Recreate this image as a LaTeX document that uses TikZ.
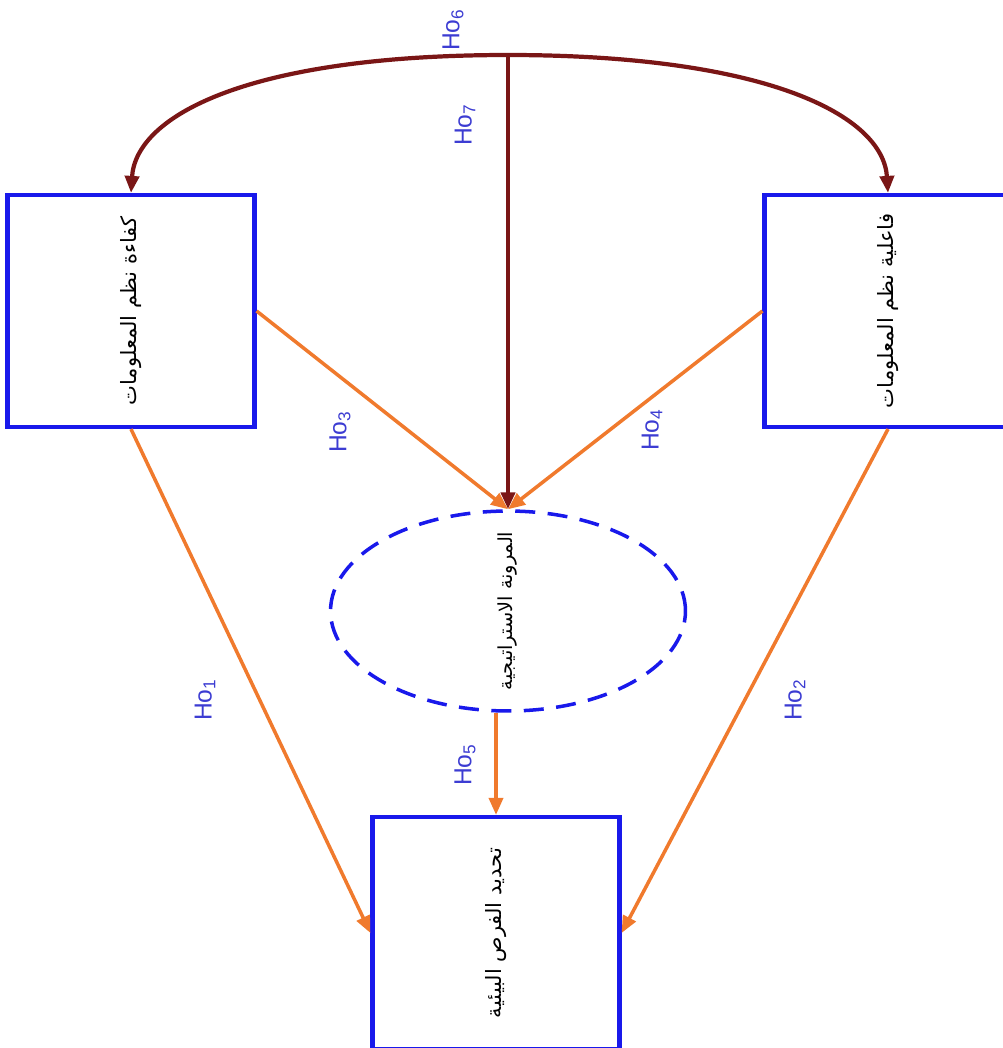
\documentclass[tikz,border=0pt]{standalone}
\usepackage{fontspec}
\usepackage{graphicx}
\setmainfont{Liberation Sans}
\newfontfamily\arabicfont[Script=Arabic]{DejaVu Sans}
\TeXXeTstate=1
\usepackage{tikz}
\usetikzlibrary{arrows.meta,calc,positioning,shapes.geometric}

\definecolor{boxblue}{RGB}{25,25,235}
\definecolor{hoblue}{RGB}{60,60,210}
\definecolor{darkbrown}{RGB}{122,22,22}
\definecolor{orangeln}{RGB}{240,122,45}

\newcommand{\artext}[1]{\rotatebox{90}{\arabicfont\beginR #1\endR}}
\newcommand{\hyp}[1]{\rotatebox{90}{Ho\textsubscript{#1}}}

\begin{document}
\begin{tikzpicture}[
  x=0.02cm,y=-0.02cm,
  factor/.style={rectangle,draw=boxblue,line width=2.4pt,minimum width=4.94cm,minimum height=4.64cm,inner sep=0pt,font=\fontsize{12}{14}\selectfont},
  mediator/.style={ellipse,draw=boxblue,dash pattern=on 0.4cm off 0.25cm,line width=2pt,minimum width=7.1cm,minimum height=4.0cm,inner sep=0pt},
  medtext/.style={inner sep=0pt,font=\fontsize{11}{13}\selectfont},
  direct/.style={-{Triangle[length=3.4mm,width=2.8mm]},orangeln,line width=2pt},
  indirect/.style={-{Triangle[length=3.4mm,width=2.8mm]},darkbrown,line width=2.4pt},
  hlabel/.style={text=hoblue,font=\fontsize{14}{16}\selectfont,inner sep=0pt}
]
  \useasboundingbox (0,0) rectangle (1003,1048);

  % independent variables, mediator and dependent variable
  \node[factor] (eff) at (131,311) {\artext{كفاءة نظم المعلومات}};
  \node[factor] (effect) at (888,311) {\artext{فاعلية نظم المعلومات}};
  \node[mediator] (flex) at (508,611) {};
  \node[medtext] (flextext) at (flex) {\artext{المرونة الاستراتيجية}};
  \node[factor] (opp) at (496,933) {\artext{تحديد الفرص البيئية}};
  \coordinate (split) at (508,55);

  % hypotheses
  \draw[direct] (eff.south) -- (opp.west);
  \draw[direct] (effect.south) -- (opp.east);
  \draw[direct] (eff.east) -- (flex.north);
  \draw[direct] (effect.west) -- (flex.north);
  \draw[direct] (flex.south -| opp.north) -- (opp.north);
  \draw[indirect] (split) -- (flex.north);
  \draw[indirect,{Triangle[length=3.4mm,width=2.8mm]}-{Triangle[length=3.4mm,width=2.8mm]}]
    (eff.north) .. controls (136,115) and (250,55) .. (split)
    .. controls (766,55) and (883,115) .. (effect.north);

  \node[hlabel] (h1) at (205,700) {\hyp{1}};
  \node[hlabel] (h2) at (795,700) {\hyp{2}};
  \node[hlabel] (h3) at (340,432) {\hyp{3}};
  \node[hlabel] (h4) at (652,430) {\hyp{4}};
  \node[hlabel] (h5) at (465,765) {\hyp{5}};
  \node[hlabel] (h6) at (453,30) {\hyp{6}};
  \node[hlabel] (h7) at (465,125) {\hyp{7}};
\end{tikzpicture}
\end{document}
